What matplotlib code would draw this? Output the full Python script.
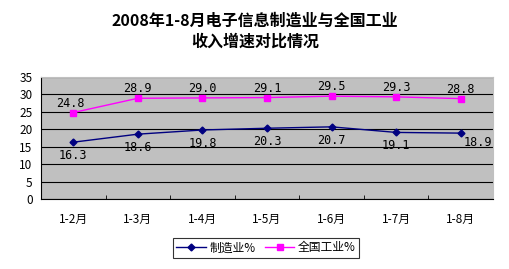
import numpy as np
import matplotlib.pyplot as plt

plt.rcParams['font.family'] = ['Noto Sans CJK SC', 'DejaVu Sans']

months = ['1-2月', '1-3月', '1-4月', '1-5月', '1-6月', '1-7月', '1-8月']
manufacturing = [16.3, 18.6, 19.8, 20.3, 20.7, 19.1, 18.9]
national = [24.8, 28.9, 29.0, 29.1, 29.5, 29.3, 28.8]

fig = plt.figure(figsize=(5.10, 2.69), dpi=100)
ax = fig.add_axes([41 / 510, 1 - 199 / 269, 452 / 510, 122 / 269])
ax.set_facecolor('#C0C0C0')

x = np.arange(len(months))
ax.plot(x, manufacturing, color='#000080', marker='D', markersize=3.5, lw=1,
        label='制造业%')
ax.plot(x, national, color='#FF00FF', marker='s', markersize=4.5, lw=1,
        label='全国工业%')

for i, v in enumerate(manufacturing):
    if i == len(manufacturing) - 1:
        ax.annotate(f'{v:.1f}', (i, v), xytext=(2, -2), textcoords='offset points',
                    ha='left', va='top', fontsize=8.5, family='DejaVu Sans Mono')
    else:
        ax.annotate(f'{v:.1f}', (i, v), xytext=(0, -5), textcoords='offset points',
                    ha='center', va='top', fontsize=8.5, family='DejaVu Sans Mono')
for i, v in enumerate(national):
    ax.annotate(f'{v:.1f}', (i, v), xytext=(-2 if i == 0 else 0, 2), textcoords='offset points',
                ha='center', va='bottom', fontsize=8.5, family='DejaVu Sans Mono')

ax.set_xlim(-0.5, len(months) - 0.5)
ax.set_ylim(0, 35)
ax.set_yticks(range(0, 36, 5))
ax.yaxis.grid(True, color='black', lw=0.8)
ax.set_axisbelow(True)
ax.set_xticks(x)
ax.set_xticklabels(months, fontsize=8.5)
ax.set_xticks(np.arange(-0.5, len(months)), minor=True)
ax.tick_params(axis='x', which='major', length=0, pad=10)
ax.tick_params(axis='x', which='minor', direction='in', length=3)
ax.tick_params(axis='y', length=0, labelsize=8.5, pad=6)
for s in ['top', 'right']:
    ax.spines[s].set_color('#C0C0C0')
for s in ['left', 'bottom']:
    ax.spines[s].set_color('black')

fig.text(0.5, 1 - 21 / 269, '2008年1-8月电子信息制造业与全国工业', ha='center', va='center',
         fontsize=11.5, fontweight='bold')
fig.text(0.5, 1 - 42 / 269, '收入增速对比情况', ha='center', va='center',
         fontsize=11.5, fontweight='bold')

leg = fig.legend(loc='center', bbox_to_anchor=(266 / 510, 1 - 248 / 269), ncol=2,
                 fontsize=8.5, frameon=True, fancybox=False, edgecolor='black',
                 handlelength=2.5, columnspacing=0.8, borderpad=0.3, handletextpad=0.3)
leg.get_frame().set_linewidth(0.8)

fig.savefig('out.png', dpi=100)
